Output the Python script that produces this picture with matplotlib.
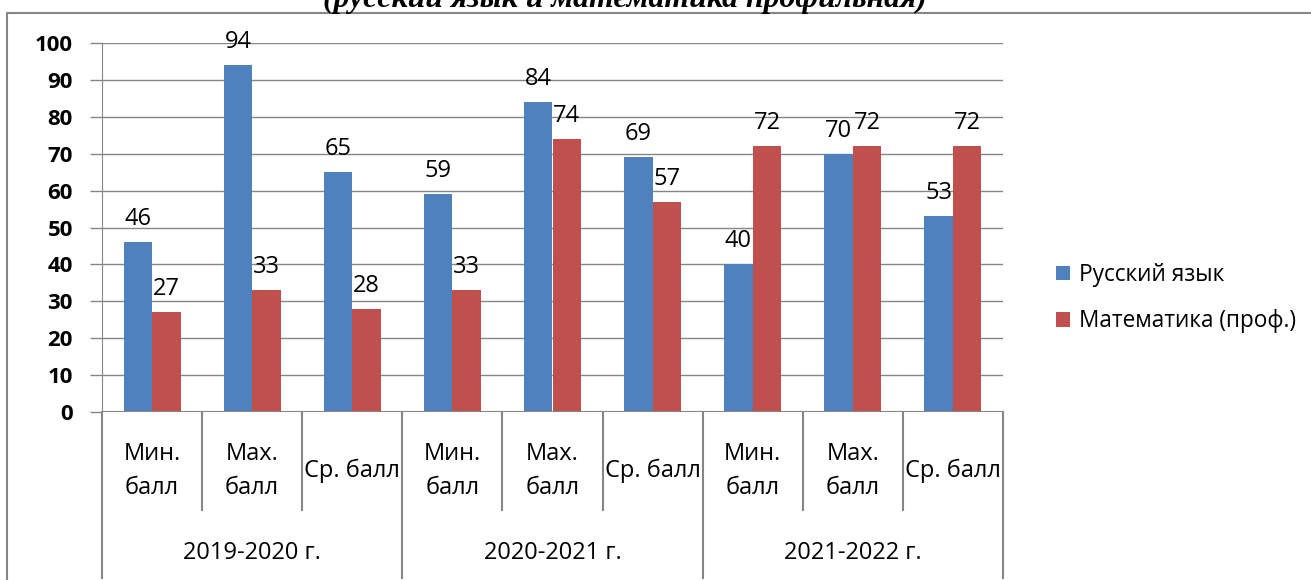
import matplotlib.pyplot as plt
from matplotlib.lines import Line2D
import numpy as np

plt.rcParams['font.family'] = ['Open Sans', 'DejaVu Sans']

# DATA
years = ['2019-2020 г.', '2020-2021 г.', '2021-2022 г.']
kinds = ['Мин.\nбалл', 'Max.\nбалл', 'Ср. балл']
series_names = ['Русский язык', 'Математика (проф.)']
rus = [46, 94, 65, 59, 84, 69, 40, 70, 53]
mat = [27, 33, 28, 33, 74, 57, 72, 72, 72]
title = '(русский язык и математика профильная)'

blue = '#4F81BD'
red = '#C0504D'
grey = '#868686'

W, H = 1311, 580
fig = plt.figure(figsize=(W / 100, H / 100), dpi=100)
ax_l, ax_r, ax_b, ax_t = 102, 1003, 412, 43
ax = fig.add_axes([ax_l / W, 1 - ax_b / H, (ax_r - ax_l) / W, (ax_b - ax_t) / H])

x = np.arange(len(rus))
bw = 0.285
b1 = ax.bar(x - bw / 2, rus, bw, color=blue, label=series_names[0], zorder=3)
b2 = ax.bar(x + bw / 2, mat, bw, color=red, label=series_names[1], zorder=3)

for bars, vals in ((b1, rus), (b2, mat)):
    for b, v in zip(bars, vals):
        ax.annotate(str(v), (b.get_x() + b.get_width() / 2, v), xytext=(0, 8),
                    textcoords='offset points', ha='center', va='bottom', fontsize=17)

ax.set_xlim(-0.5, len(rus) - 0.5)
ax.set_ylim(0, 100)
ax.set_yticks(range(0, 101, 10))
ax.yaxis.grid(True, color=grey, lw=1, zorder=0)
ax.tick_params(axis='y', direction='out', length=9, width=1, color=grey, labelsize=16, pad=12)
for lab in ax.get_yticklabels():
    lab.set_fontweight('bold')
ax.set_xticks([])
for s in ['top', 'right', 'bottom']:
    ax.spines[s].set_visible(False)
ax.spines['left'].set_color(grey)
ax.axhline(0, color=grey, lw=1.5, zorder=4)

# hierarchical category axis
tr = ax.get_xaxis_transform()
cat_depth = -(510 - ax_b) / (ax_b - ax_t)
grp_depth = -(578 - ax_b) / (ax_b - ax_t)
for i in range(len(rus) + 1):
    xe = i - 0.5
    d = grp_depth if i % 3 == 0 else cat_depth
    ax.add_line(Line2D([xe, xe], [0, d], transform=tr, color=grey, lw=1.5, clip_on=False))
for i in range(len(rus)):
    ax.text(i, -(471 - ax_b) / (ax_b - ax_t), kinds[i % 3], transform=tr, ha='center',
            va='center', fontsize=17, linespacing=1.55)
for g, yr in enumerate(years):
    ax.text(g * 3 + 1, -(553 - ax_b) / (ax_b - ax_t), yr, transform=tr, ha='center',
            va='center', fontsize=17)

fig.legend(handles=[b1, b2], labels=series_names, loc='center left',
           bbox_to_anchor=(1036 / W, 1 - 298 / H), frameon=False, fontsize=16.3,
           handlelength=0.6, handleheight=0.6, handletextpad=0.4, labelspacing=1.0)

# chart border and cut title
fig.add_artist(Line2D([7 / W, 7 / W, 1], [0, 1 - 13 / H, 1 - 13 / H], color=grey, lw=1.5))
fig.text(625 / W, 1 - 7 / H, title, ha='center', va='baseline', fontsize=22.9,
         family='Liberation Serif', fontweight='bold', style='italic')

fig.savefig('out.png', dpi=100)
